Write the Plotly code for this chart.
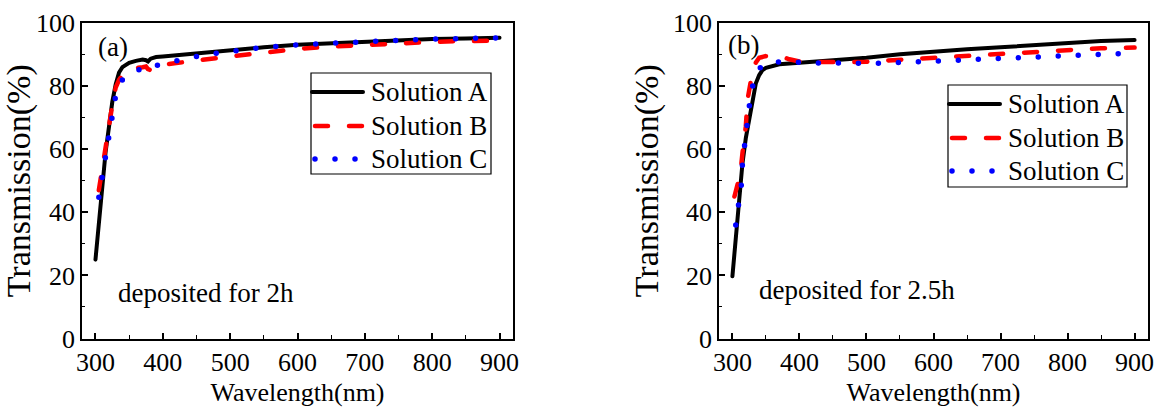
import plotly.graph_objects as go

# ---------------- data ----------------
# Panel (a): deposited for 2h
a_wl_A = [300, 305, 310, 315, 320, 325, 330, 335, 340, 345, 350, 360, 370, 375, 378, 382, 390, 400,
          420, 440, 460, 480, 500, 550, 600, 650, 700, 750, 800, 850, 900]
a_A = [25, 37, 50, 59, 67, 75, 80.5, 84.3, 86, 86.9, 87.4, 88, 88.4, 88.2, 87.8, 88.7, 89.2, 89.4,
       89.8, 90.3, 90.7, 91.1, 91.5, 92.3, 93.1, 93.6, 94.1, 94.5, 94.9, 95.1, 95.3]

a_wl_B = [305, 310, 315, 320, 325, 330, 335, 340, 345, 350, 360, 370, 375, 378, 382, 390, 400,
          420, 440, 460, 480, 500, 550, 600, 650, 700, 750, 800, 850, 900]
a_B = [47, 54, 61, 68, 74, 79.5, 82, 83.5, 84.5, 85, 85.7, 86, 86.2, 85.4, 85.0, 86.2, 86.8,
       87.3, 87.9, 88.4, 88.9, 89.4, 90.6, 91.8, 92.5, 93.1, 93.6, 94, 94.3, 94.4]

a_wl_C = [305, 310, 315, 320, 325, 330, 335, 340, 345, 350, 360, 370, 375, 378, 382, 390, 400,
          420, 440, 460, 480, 500, 550, 600, 650, 700, 750, 800, 850, 900]
a_C = [44.8, 51, 58, 64, 72, 77, 80, 82, 83, 84, 85, 85.5, 85.7, 85.3, 85.5, 86.5, 87.2,
       88, 89, 89.8, 90.4, 90.9, 92.3, 93.1, 93.7, 94.2, 94.5, 94.9, 95.1, 95.3]

# Panel (b): deposited for 2.5h
b_wl_A = [300, 305, 310, 315, 320, 325, 330, 335, 340, 345, 350, 360, 370, 380, 400, 430, 460,
          500, 550, 600, 650, 700, 750, 800, 850, 900]
b_A = [19.7, 32, 44, 55.5, 63.5, 69.5, 75.5, 80.9, 83.5, 85.1, 85.8, 86.5, 86.9, 87.1, 87.4, 87.8, 88.3,
       89, 90.1, 91, 91.7, 92.3, 93, 93.8, 94.3, 94.6]

b_wl_B = [303, 307, 312, 315, 320, 322.5, 325, 330, 335, 340, 350, 365, 375, 385, 400, 420, 450,
          500, 530, 600, 650, 700, 750, 800, 850, 900]
b_B = [45, 48, 52.4, 58.8, 67.2, 75.6, 79, 84.6, 87.5, 89, 89.5, 89.5, 89.2, 88.5, 87.8, 87.6, 87.6,
       87.7, 88.1, 89, 89.6, 90.2, 90.9, 91.5, 92, 92.2]

b_wl_C = [305, 310, 313.5, 315, 318.5, 321.5, 326, 331.5, 340, 348.5, 360, 377.5, 407.5, 437.5, 467.5,
          500, 530, 600, 650, 700, 750, 800, 850, 900]
b_C = [36, 42.4, 49, 55.6, 61.9, 68.4, 75, 81.4, 85.5, 87.2, 87.6, 87.8, 87.4, 87.2, 87.2,
       87.2, 87.3, 87.9, 88.3, 88.8, 89.4, 89.9, 90.3, 90.5]

series_names = ["Solution A", "Solution B", "Solution C"]
panel_labels = ["(a)", "(b)"]
panel_notes = ["deposited for 2h", "deposited for 2.5h"]
x_title = "Wavelength(nm)"
y_title = "Transmission(%)"

# ---------------- styling ----------------
FONT = "Liberation Serif"
W, H = 1157, 407
styles = [
    dict(color="black", width=4, dash="solid"),
    dict(color="#ff0000", width=4.5, dash="13px,21px"),
    dict(color="#0000ff", width=5.5, dash="0px,20px"),
]


def px_x(p):
    return p / W


def px_y(p):
    return 1 - p / H


fig = go.Figure()

panels = [
    ([(a_wl_A, a_A), (a_wl_B, a_B), (a_wl_C, a_C)], "x", "y"),
    ([(b_wl_A, b_A), (b_wl_B, b_B), (b_wl_C, b_C)], "x2", "y2"),
]
for data, xa, ya in panels:
    for (wl, val), name, st in zip(data, series_names, styles):
        fig.add_trace(go.Scatter(x=wl, y=val, mode="lines", name=name,
                                 line=st, xaxis=xa, yaxis=ya, showlegend=False))

axis_common = dict(showline=True, linecolor="black", linewidth=1.5, mirror=True,
                   ticks="inside", ticklen=6, tickwidth=1.5, tickcolor="black",
                   showgrid=False, zeroline=False, automargin=False,
                   tickfont=dict(family=FONT, size=26, color="black"))
xdom1 = [px_x(82), px_x(513)]
xdom2 = [px_x(719), px_x(1148)]
ydom = [px_y(338.5), px_y(23)]

xaxis_cfg = dict(axis_common, range=[280, 920], tick0=300, dtick=100,
                 minor=dict(ticks="inside", ticklen=3.5, tickwidth=1.2, dtick=50, tick0=300,
                            tickcolor="black", showgrid=False),
                 title=dict(text=x_title, font=dict(family=FONT, size=26, color="black"), standoff=8))
yaxis_cfg = dict(axis_common, range=[0, 100], tick0=0, dtick=20,
                 minor=dict(ticks="inside", ticklen=3.5, tickwidth=1.2, dtick=10, tick0=0,
                            tickcolor="black", showgrid=False),
                 title=dict(text=y_title, font=dict(family=FONT, size=34, color="black"), standoff=4))

fig.update_layout(
    width=W, height=H,
    margin=dict(l=0, r=0, t=0, b=0, autoexpand=False),
    paper_bgcolor="white", plot_bgcolor="white",
    font=dict(family=FONT, color="black"),
    xaxis=dict(xaxis_cfg, domain=xdom1, anchor="y"),
    yaxis=dict(yaxis_cfg, domain=ydom, anchor="x"),
    xaxis2=dict(xaxis_cfg, domain=xdom2, anchor="y2"),
    yaxis2=dict(yaxis_cfg, domain=ydom, anchor="x2"),
    showlegend=False,
)

# panel labels and notes
ann_pos = [((96, 47), (116, 293)), ((726, 45), (757, 290))]
for (lab_xy, note_xy), lab, note in zip(ann_pos, panel_labels, panel_notes):
    fig.add_annotation(text=lab, x=px_x(lab_xy[0]), y=px_y(lab_xy[1]), xref="paper", yref="paper",
                       xanchor="left", yanchor="middle", showarrow=False,
                       font=dict(family=FONT, size=27, color="black"))
    fig.add_annotation(text=note, x=px_x(note_xy[0]), y=px_y(note_xy[1]), xref="paper", yref="paper",
                       xanchor="left", yanchor="middle", showarrow=False,
                       font=dict(family=FONT, size=27, color="black"))

# legends (boxed, one per panel)
legend_boxes = [
    dict(box=(311, 73, 491, 174), sample=(312, 363), text_x=369, rows=(92, 126, 159)),
    dict(box=(948, 85, 1127, 187), sample=(949, 1000), text_x=1006, rows=(104, 138, 171)),
]
for lb in legend_boxes:
    x0, y0, x1, y1 = lb["box"]
    fig.add_shape(type="rect", xref="paper", yref="paper",
                  x0=px_x(x0), x1=px_x(x1), y0=px_y(y1), y1=px_y(y0),
                  line=dict(color="black", width=1.2), fillcolor="white", layer="above")
    for name, st, ry in zip(series_names, styles, lb["rows"]):
        fig.add_shape(type="line", xref="paper", yref="paper",
                      x0=px_x(lb["sample"][0] + (3 if st["dash"] != "solid" else 0)),
                      x1=px_x(lb["sample"][1]), y0=px_y(ry), y1=px_y(ry),
                      line=dict(color=st["color"], width=st["width"], dash=st["dash"]),
                      layer="above")
        fig.add_annotation(text=name, x=px_x(lb["text_x"]), y=px_y(ry), xref="paper", yref="paper",
                           xanchor="left", yanchor="middle", showarrow=False,
                           font=dict(family=FONT, size=27, color="black"))

post = """
function setCaps(){
  document.querySelectorAll('.scatterlayer .js-line, .shapelayer path').forEach(function(p){
    p.style.strokeLinecap = 'round';
  });
}
setCaps();
setTimeout(setCaps, 50);
"""
fig.write_html("out.html", post_script=post)
